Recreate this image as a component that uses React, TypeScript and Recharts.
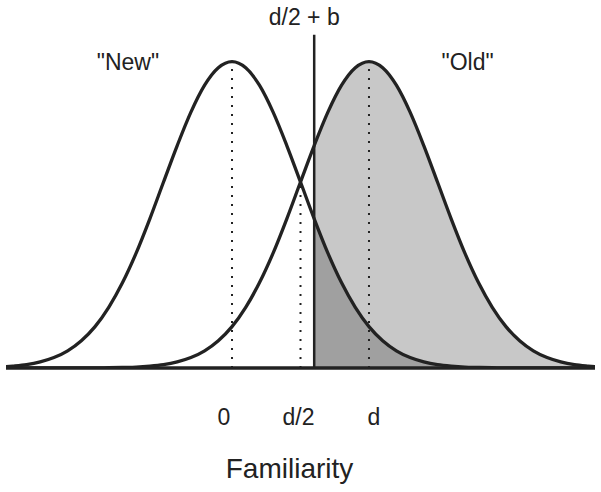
import React from 'react';
import {
  ComposedChart, Line, Area, XAxis, YAxis, ReferenceLine, ReferenceDot,
} from 'recharts';

// familiarity axis, in units of sigma (New mean = 0, Old mean = d = 2)
const familiarity = [
  -3.3, -3.2, -3.0, -2.8, -2.6, -2.4, -2.2, -2.0, -1.8, -1.6, -1.4, -1.2, -1.0,
  -0.8, -0.6, -0.4, -0.2, 0, 0.2, 0.4, 0.6, 0.8, 1.0, 1.2, 1.4, 1.6, 1.8, 2.0,
  2.2, 2.4, 2.6, 2.8, 3.0, 3.2, 3.4, 3.6, 3.8, 4.0, 4.2, 4.4, 4.6, 4.8, 5.0, 5.2, 5.3,
];

// curve heights, peak = 1
const newItems = [
  0.004, 0.006, 0.011, 0.020, 0.034, 0.056, 0.089, 0.135, 0.198, 0.278, 0.375, 0.487, 0.607,
  0.726, 0.835, 0.923, 0.980, 1.000, 0.980, 0.923, 0.835, 0.726, 0.607, 0.487, 0.375, 0.278, 0.198, 0.135,
  0.089, 0.056, 0.034, 0.020, 0.011, 0.006, 0.003, 0.002, 0.001, 0, 0, 0, 0, 0, 0, 0, 0,
];

const oldItems = [
  0, 0, 0, 0, 0, 0, 0, 0, 0.001, 0.002, 0.003, 0.006, 0.011,
  0.020, 0.034, 0.056, 0.089, 0.135, 0.198, 0.278, 0.375, 0.487, 0.607, 0.726, 0.835, 0.923, 0.980, 1.000,
  0.980, 0.923, 0.835, 0.726, 0.607, 0.487, 0.375, 0.278, 0.198, 0.135, 0.089, 0.056, 0.034, 0.020, 0.011, 0.006, 0.004,
];

const criterion = 1.2; // d/2 + b
const criterionTop = 1.088;
const tickValues = [0, 1, 2];
const tickLabels = ['0', 'd/2', 'd'];

const data = familiarity.map((x, i) => ({
  x,
  newV: newItems[i],
  oldV: oldItems[i],
  hit: x >= criterion ? oldItems[i] : null,
  fa: x >= criterion ? newItems[i] : null,
}));

const INK = '#222222';
const FONT = '"Liberation Sans", Arial, Helvetica, sans-serif';
const tickNudge = [-8, -2, 5];

const FamTick = (props: any) => {
  const { x, y, index } = props;
  return (
    <text x={x + tickNudge[index]} y={y} dy="0.71em" textAnchor="middle"
      fontSize={23} fill={INK} fontFamily={FONT}>
      {tickLabels[index]}
    </text>
  );
};

export default function App() {
  return (
    <div style={{ position: 'absolute', left: 0, top: 0, width: 601, height: 492, background: '#fff' }}>
      <ComposedChart width={601} height={492} data={data}
        margin={{ top: 31, right: 6, bottom: 0, left: 6 }}>
        <XAxis dataKey="x" type="number" domain={[-3.3, 5.3]} ticks={tickValues}
          allowDataOverflow height={124} tickLine={false}
          axisLine={{ stroke: INK, strokeWidth: 3.3 }}
          tick={<FamTick />} tickMargin={35}
          label={{ value: 'Familiarity', position: 'insideBottom', offset: 14, dx: -11,
            fontSize: 28, fill: INK, fontFamily: FONT }} />
        <YAxis hide domain={[0, 1.1]} allowDataOverflow />

        <Area type="monotone" dataKey="hit" stroke="none" fill="#c8c8c8" fillOpacity={1}
          isAnimationActive={false} connectNulls={false} />
        <Area type="monotone" dataKey="fa" stroke="none" fill="#a0a0a0" fillOpacity={1}
          isAnimationActive={false} connectNulls={false} />

        <ReferenceLine segment={[{ x: 0, y: 0 }, { x: 0, y: 1 }]} stroke={INK}
          strokeWidth={2} strokeDasharray="2 7" />
        <ReferenceLine segment={[{ x: 1, y: 0 }, { x: 1, y: 0.6 }]} stroke={INK}
          strokeWidth={2} strokeDasharray="2 7" />
        <ReferenceLine segment={[{ x: 2, y: 0 }, { x: 2, y: 1 }]} stroke={INK}
          strokeWidth={2} strokeDasharray="2 7" />

        <Line type="monotone" dataKey="newV" stroke={INK} strokeWidth={3.3} dot={false}
          isAnimationActive={false} />
        <Line type="monotone" dataKey="oldV" stroke={INK} strokeWidth={3.3} dot={false}
          isAnimationActive={false} />

        <ReferenceLine segment={[{ x: criterion, y: 0 }, { x: criterion, y: criterionTop }]}
          stroke={INK} strokeWidth={2.5}
          label={{ value: 'd/2 + b', position: 'top', offset: 10, dx: -10, fontSize: 23, fill: INK, fontFamily: FONT }} />

        <ReferenceDot x={-1.52} y={1.0} r={0} stroke="none" fill="none"
          label={{ value: '"New"', position: 'center', fontSize: 23, fill: INK, fontFamily: FONT }} />
        <ReferenceDot x={3.44} y={1.0} r={0} stroke="none" fill="none"
          label={{ value: '"Old"', position: 'center', fontSize: 23, fill: INK, fontFamily: FONT }} />
      </ComposedChart>
    </div>
  );
}
